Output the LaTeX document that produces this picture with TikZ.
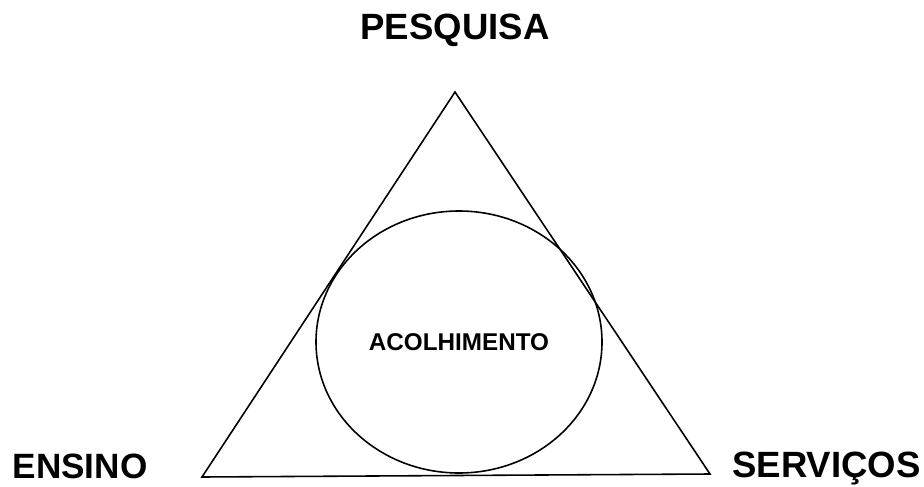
\documentclass[tikz,border=0pt]{standalone}
\usepackage{fontspec}
\setmainfont{Liberation Sans}
\usetikzlibrary{shapes.geometric}
\tikzset{
  cornerlabel/.style={font=\bfseries\fontsize{20}{24}\selectfont,anchor=base,inner sep=0pt},
  widelabel/.style={cornerlabel,font=\bfseries\fontsize{20.8}{24}\selectfont},
  centrelabel/.style={font=\bfseries\fontsize{13.8}{16}\selectfont},
  edgeline/.style={line width=0.9pt,black},
}
\newcommand{\corner}[3]{\coordinate (#3) at (#1,#2);}

\begin{document}
\begin{tikzpicture}
	\useasboundingbox (0,0) rectangle (18.48,9.72);
	\corner{9.10}{7.88}{top} \corner{4.04}{0.18}{left} \corner{14.20}{0.24}{right}
	\draw[edgeline] (top) -- (left) -- (right) -- cycle;
	\node[draw,edgeline,ellipse,minimum width=5.72cm,minimum height=5.24cm,inner sep=0pt,centrelabel] (acolh) at (9.18,2.88) {ACOLHIMENTO};
	\node[widelabel] (pesq) at (9.10,8.92) {PESQUISA};
	\node[cornerlabel] (ensino) at (1.60,0.16) {ENSINO};
	\node[widelabel] (serv) at (16.53,0.18) {SERVIÇOS};
\end{tikzpicture}
\end{document}
